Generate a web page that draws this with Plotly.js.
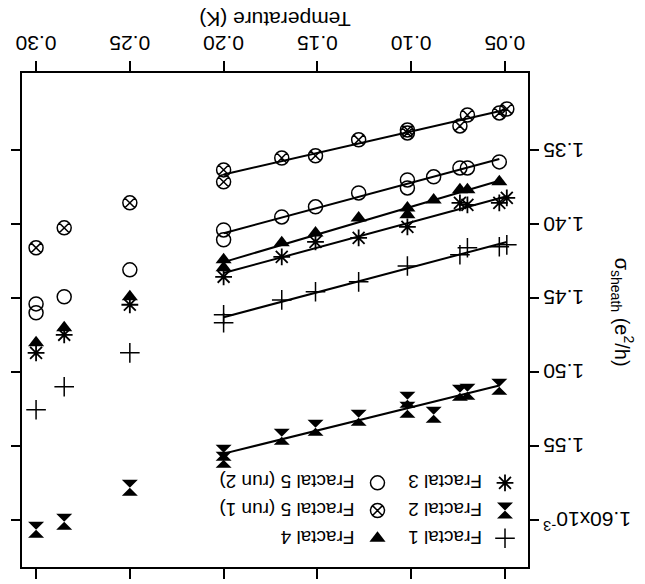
<!DOCTYPE html>
<html><head><meta charset="utf-8">
<script src="https://cdn.plot.ly/plotly-3.0.1.min.js"></script>
<style>
html,body{margin:0;padding:0;background:#fff;overflow:hidden}
#wrap{width:645px;height:584px;transform:rotate(180deg);transform-origin:50% 50%}
</style></head>
<body><div id="wrap"><div id="chart" style="width:645px;height:584px"></div></div>
<script>
// Temperature (K) and sigma_sheath (10^-3 e^2/h) for each sample
const f1T = [0.049, 0.053, 0.070, 0.074, 0.102, 0.128, 0.151, 0.169, 0.200, 0.200, 0.250, 0.285, 0.300];
const f1S = [1.4142, 1.4155, 1.4162, 1.4209, 1.4285, 1.4392, 1.4459, 1.4514, 1.4615, 1.4669, 1.4872, 1.5101, 1.5257];

const f2T = [0.053, 0.070, 0.074, 0.088, 0.102, 0.102, 0.128, 0.151, 0.169, 0.200, 0.200, 0.250, 0.285, 0.300];
const f2S = [1.5101, 1.5135, 1.5142, 1.5291, 1.5189, 1.5257, 1.5311, 1.5378, 1.5439, 1.5547, 1.5595, 1.5784, 1.6014, 1.6068];

const f3T = [0.049, 0.053, 0.070, 0.074, 0.102, 0.128, 0.151, 0.169, 0.200, 0.250, 0.285, 0.300];
const f3S = [1.3824, 1.3858, 1.3872, 1.3858, 1.4020, 1.4095, 1.4122, 1.4223, 1.4358, 1.4547, 1.4750, 1.4872];

const f4T = [0.053, 0.070, 0.074, 0.088, 0.102, 0.102, 0.128, 0.151, 0.169, 0.200, 0.200, 0.250, 0.285, 0.300];
const f4S = [1.3716, 1.3770, 1.3770, 1.3838, 1.3892, 1.3939, 1.3960, 1.4061, 1.4128, 1.4243, 1.4297, 1.4493, 1.4703, 1.4804];

const f5aT = [0.049, 0.053, 0.070, 0.074, 0.102, 0.102, 0.128, 0.151, 0.169, 0.200, 0.200, 0.250, 0.285, 0.300];
const f5aS = [1.3223, 1.3250, 1.3264, 1.3338, 1.3365, 1.3385, 1.3432, 1.3540, 1.3555, 1.3635, 1.3716, 1.3858, 1.4027, 1.4162];

const f5bT = [0.053, 0.070, 0.074, 0.088, 0.102, 0.102, 0.128, 0.151, 0.169, 0.200, 0.200, 0.250, 0.285, 0.300, 0.300];
const f5bS = [1.3581, 1.3622, 1.3622, 1.3682, 1.3703, 1.3757, 1.3791, 1.3885, 1.3953, 1.4041, 1.4108, 1.4311, 1.4493, 1.4541, 1.4601];

const names = ['Fractal 1', 'Fractal 2', 'Fractal 3', 'Fractal 4', 'Fractal 5 (run 1)', 'Fractal 5 (run 2)'];
const xTicks = [0.05, 0.10, 0.15, 0.20, 0.25, 0.30];
const xTickText = ['0.05', '0.10', '0.15', '0.20', '0.25', '0.30'];
const yTicks = [1.35, 1.40, 1.45, 1.50, 1.55, 1.60];
const yTickText = ['1.35', '1.40', '1.45', '1.50', '1.55', '1.60x10<sup>-3</sup>'];
const fitMaxT = 0.20;

// the whole figure is shown turned by 180 degrees, so 'triangle-down' is seen pointing up
const series = [
  {T: f1T, S: f1S, sym: 'cross-thin-open', size: 14, legend: 'legend'},
  {T: f2T, S: f2S, sym: 'hourglass', size: 16, legend: 'legend'},
  {T: f3T, S: f3S, sym: 'asterisk-open', size: 14, legend: 'legend'},
  {T: f4T, S: f4S, sym: 'triangle-down', size: 14, legend: 'legend2'},
  {T: f5aT, S: f5aS, sym: 'circle-x-open', size: 14, legend: 'legend2'},
  {T: f5bT, S: f5bS, sym: 'circle-open', size: 14, legend: 'legend2'}
];

function fit(T, S) {
  const xs = [], ys = [];
  T.forEach((t, i) => { if (t <= fitMaxT + 1e-9) { xs.push(t); ys.push(S[i]); } });
  const n = xs.length;
  const mx = xs.reduce((a, b) => a + b, 0) / n, my = ys.reduce((a, b) => a + b, 0) / n;
  let sxy = 0, sxx = 0;
  for (let i = 0; i < n; i++) { sxy += (xs[i] - mx) * (ys[i] - my); sxx += (xs[i] - mx) ** 2; }
  const b = sxy / sxx, a = my - b * mx;
  const x0 = Math.min(...xs), x1 = Math.max(...xs);
  return {x: [x0, x1], y: [a + b * x0, a + b * x1]};
}

const traces = [];
series.forEach((s) => {
  const f = fit(s.T, s.S);
  traces.push({x: f.x, y: f.y, mode: 'lines', line: {color: '#000', width: 2}, showlegend: false, hoverinfo: 'skip'});
});
series.forEach((s, i) => {
  const filled = (s.sym === 'hourglass' || s.sym === 'triangle-down');
  traces.push({
    x: s.T, y: s.S, mode: 'markers', name: names[i], legend: s.legend,
    marker: {symbol: s.sym, size: s.size, color: '#000',
             line: {color: '#000', width: filled ? 0 : (s.sym === 'asterisk-open' ? 1.8 : 1.5)}}
  });
});

const font = {family: '"Liberation Sans", Arial, sans-serif', color: '#000'};
const layout = {
  width: 645, height: 584,
  margin: {l: 117, r: 22, t: 17, b: 73},
  paper_bgcolor: '#fff', plot_bgcolor: '#fff',
  font: Object.assign({size: 21}, font),
  showlegend: true,
  xaxis: {
    range: [0.0377, 0.3075], tickvals: xTicks, ticktext: xTickText,
    showgrid: false, zeroline: false, showline: true, linecolor: '#000', linewidth: 2,
    mirror: 'ticks', ticks: 'outside', ticklen: 10, tickwidth: 2, tickcolor: '#000',
    tickfont: Object.assign({size: 21}, font),
    title: {text: 'Temperature (K)', font: Object.assign({size: 21}, font), standoff: 6}
  },
  yaxis: {
    range: [1.298, 1.632], tickvals: yTicks, ticktext: yTickText,
    showgrid: false, zeroline: false, showline: true, linecolor: '#000', linewidth: 2,
    mirror: 'ticks', ticks: 'outside', ticklen: 9, tickwidth: 2, tickcolor: '#000',
    tickfont: Object.assign({size: 21}, font)
  },
  annotations: [{
    text: 'σ<sub>sheath</sub> (e<sup>2</sup>/h)', xref: 'paper', yref: 'paper',
    x: -0.186, y: 0.485, xanchor: 'center', yanchor: 'middle', textangle: -90,
    showarrow: false, font: Object.assign({size: 20}, font)
  }],
  legend: {x: 0.0, y: 0.98, xanchor: 'left', yanchor: 'top', bgcolor: 'rgba(0,0,0,0)',
           font: Object.assign({size: 19}, font), tracegroupgap: 0, itemwidth: 36},
  legend2: {x: 0.252, y: 0.98, xanchor: 'left', yanchor: 'top', bgcolor: 'rgba(0,0,0,0)',
            font: Object.assign({size: 19}, font), tracegroupgap: 0, itemwidth: 36}
};

Plotly.newPlot('chart', traces, layout, {staticPlot: true, displayModeBar: false});
</script>
</body></html>
